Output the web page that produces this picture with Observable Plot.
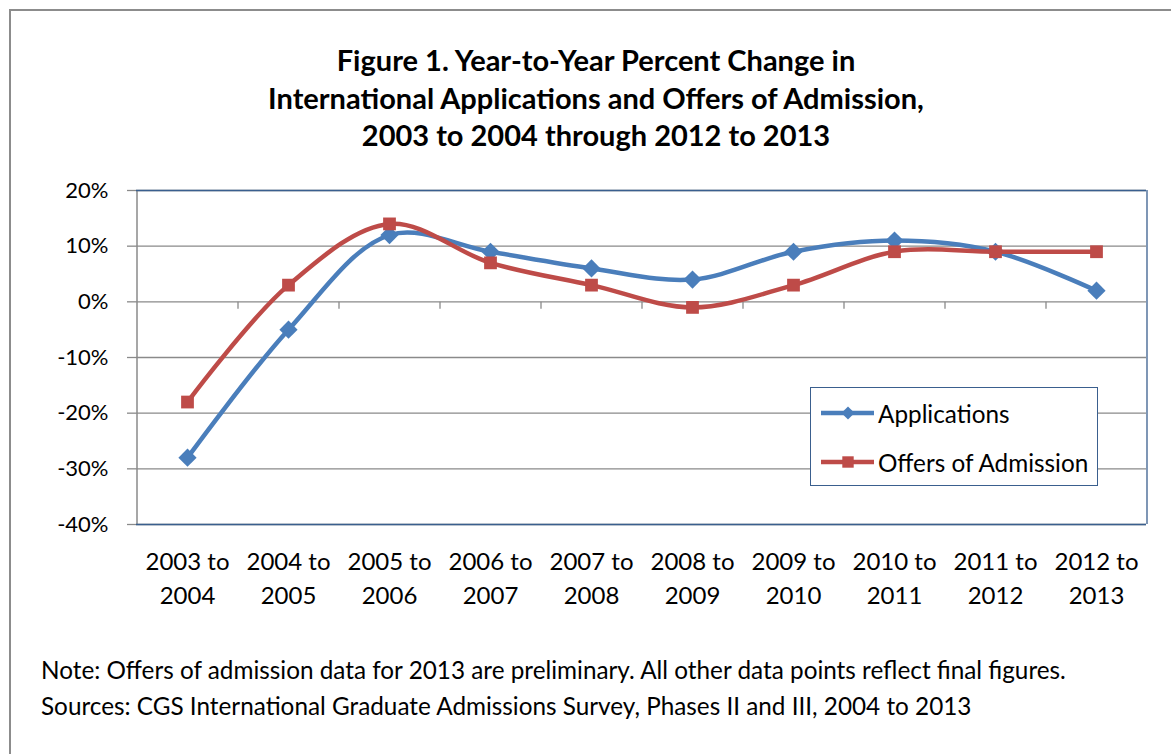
<!DOCTYPE html>
<html><head><meta charset="utf-8">
<script src="https://cdn.jsdelivr.net/npm/d3@7"></script>
<script src="https://cdn.jsdelivr.net/npm/@observablehq/plot@0.6"></script>
<style>
body{margin:0;background:#fff;}
#wrap{position:relative;width:1171px;height:754px;overflow:hidden;font-family:Lato,sans-serif;color:#000;}
#frame{position:absolute;left:9px;top:9px;width:1200px;height:800px;border-top:2px solid #8c8c8c;border-left:2px solid #8c8c8c;}
#title{position:absolute;left:10px;width:1172px;top:41px;text-align:center;font-weight:bold;font-size:29px;line-height:37.5px;}
#note{position:absolute;left:41px;top:652px;font-size:24.3px;line-height:36px;white-space:nowrap;}
#chart{position:absolute;left:0;top:0;}
#legend{position:absolute;left:810px;top:387px;width:288px;height:99px;border:1.5px solid #3A5F8E;background:#fff;box-sizing:border-box;}
.lrow{position:absolute;left:8px;height:30px;display:flex;align-items:center;font-size:24.3px;white-space:nowrap;}
.lrow svg{margin-right:2px;}
</style></head><body>
<div id="wrap">
  <div id="frame"></div>
  <div id="chart"></div>
  <div id="title"></div>
  <div id="legend"></div>
  <div id="note"></div>
</div>
<script>
const titleLines = ["Figure 1. Year-to-Year Percent Change in","International Applications and Offers of Admission,","2003 to 2004 through 2012 to 2013"];
const noteLines = ["Note: Offers of admission data for 2013 are preliminary. All other data points reflect final figures.","Sources: CGS International Graduate Admissions Survey, Phases II and III, 2004 to 2013"];
const categories = ["2003 to 2004","2004 to 2005","2005 to 2006","2006 to 2007","2007 to 2008","2008 to 2009","2009 to 2010","2010 to 2011","2011 to 2012","2012 to 2013"];
const applications = [-28,-5,12,9,6,4,9,11,9,2];
const offers = [-18,3,14,7,3,-1,3,9,9,9];
const yTicks = [-40,-30,-20,-10,0,10,20];
const seriesNames = ["Applications","Offers of Admission"];
const seriesColors = ["#4A7EBB","#BE4B48"];
const seriesSymbols = ["diamond2","square"];

const W = 1171, H = 754;
const mL = 136, mR = 25, mT = 190, mB = 230;
const step = (W - mL - mR) / categories.length;
const gridColor = "#8a8a8a";
const frameBlue = "#3A5F8E";

const appData = categories.map((c,i)=>({cat:c, value:applications[i]}));
const offData = categories.map((c,i)=>({cat:c, value:offers[i]}));

const tickSymbol = {draw(ctx){ ctx.moveTo(0,0); ctx.lineTo(0,7); }};

const plot = Plot.plot({
  width: W, height: H,
  marginLeft: mL, marginRight: mR, marginTop: mT, marginBottom: mB,
  style: {fontFamily: "Lato, sans-serif", background: "transparent", overflow: "visible"},
  x: {type: "point", domain: categories, padding: 0.5, axis: null},
  y: {domain: [-40, 20], axis: null},
  marks: [
    Plot.gridY(yTicks, {stroke: gridColor, strokeOpacity: 1, strokeWidth: 1.3}),
    Plot.axisY(yTicks, {tickSize: 9, tickPadding: 19, stroke: gridColor, strokeWidth: 1.3, fontSize: 22, tickFormat: d => `${d}%`, label: null, fill: "#000"}),
    Plot.ruleX([categories[0]], {x: d => d, y1: -40, y2: 20, dx: -step/2, stroke: gridColor, strokeWidth: 1.5}),
    Plot.ruleY([20, -40], {stroke: frameBlue, strokeWidth: 1.3}),
    Plot.ruleX([categories[categories.length-1]], {x: d => d, y1: -40, y2: 20, dx: step/2, stroke: frameBlue, strokeWidth: 1.3}),
    Plot.dot(categories.slice(1), {x: d => d, y: () => 0, dx: -step/2, symbol: tickSymbol, stroke: gridColor, strokeWidth: 1.3, fill: "none"}),
    Plot.text(categories, {x: d => d, text: d => d.replace(" to ", " to\n"), frameAnchor: "bottom", lineAnchor: "top", dy: 21, lineHeight: 1.42, fontSize: 24, fill: "#000"}),
    Plot.line(appData, {x: "cat", y: "value", stroke: seriesColors[0], strokeWidth: 4.5, curve: "catmull-rom"}),
    Plot.dot(appData, {x: "cat", y: "value", symbol: seriesSymbols[0], fill: seriesColors[0], r: 8.2}),
    Plot.line(offData, {x: "cat", y: "value", stroke: seriesColors[1], strokeWidth: 4.5, curve: "catmull-rom"}),
    Plot.dot(offData, {x: "cat", y: "value", symbol: seriesSymbols[1], fill: seriesColors[1], r: 7.2})
  ]
});
document.getElementById("chart").appendChild(plot);

document.getElementById("title").innerHTML = titleLines.map(t => `<div>${t}</div>`).join("");
document.getElementById("note").innerHTML = noteLines.map(t => `<div>${t}</div>`).join("");

const legend = document.getElementById("legend");
seriesNames.forEach((name, i) => {
  const row = document.createElement("div");
  row.className = "lrow";
  row.style.top = (i === 0 ? 10 : 59) + "px";
  const sym = d3.symbol(i === 0 ? d3.symbolDiamond2 : d3.symbolSquare, i === 0 ? 110 : 130)();
  row.innerHTML = `<svg width="57" height="30"><line x1="2" x2="55" y1="15" y2="15" stroke="${seriesColors[i]}" stroke-width="4.5"/><path d="${sym}" transform="translate(29,15)" fill="${seriesColors[i]}"/></svg><span>${name}</span>`;
  legend.appendChild(row);
});
</script>
</body></html>
